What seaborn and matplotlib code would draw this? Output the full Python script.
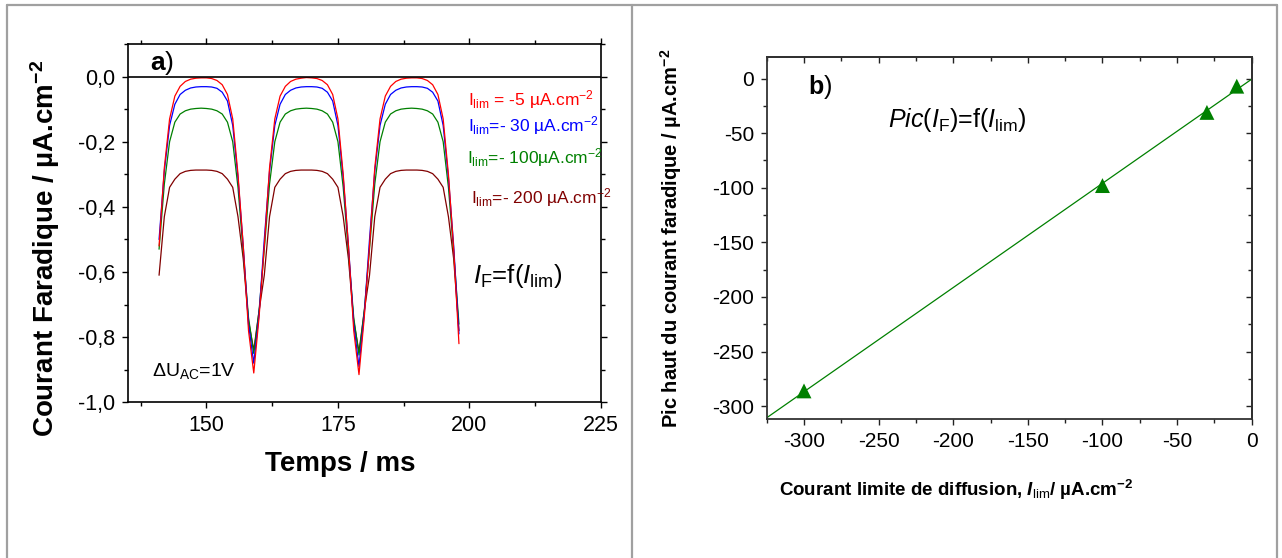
import numpy as np
import pandas as pd
import matplotlib
matplotlib.use('Agg')
import matplotlib.pyplot as plt
import seaborn as sns
from matplotlib.ticker import MultipleLocator, FuncFormatter
from matplotlib.lines import Line2D

# --- data: panel a) faradic current vs time ---
temps = [141, 142, 143, 144, 145, 146, 147, 148, 149, 150,
         151, 152, 153, 154, 155, 156, 157, 158, 159, 160,
         161, 162, 163, 164, 165, 166, 167, 168, 169, 170,
         171, 172, 173, 174, 175, 176, 177, 178, 179, 180,
         181, 182, 183, 184, 185, 186, 187, 188, 189, 190,
         191, 192, 193, 194, 195, 196, 197, 198]

courant_5 = [-0.52, -0.28, -0.13, -0.06, -0.03, -0.015, -0.008, -0.005, -0.004, -0.004,
             -0.006, -0.012, -0.025, -0.055, -0.13, -0.30, -0.52, -0.78, -0.91, -0.74,
             -0.52, -0.28, -0.13, -0.06, -0.03, -0.015, -0.008, -0.005, -0.003, -0.004,
             -0.006, -0.012, -0.025, -0.055, -0.13, -0.30, -0.52, -0.78, -0.915, -0.74,
             -0.52, -0.28, -0.13, -0.06, -0.03, -0.015, -0.008, -0.005, -0.004, -0.004,
             -0.006, -0.012, -0.025, -0.055, -0.13, -0.30, -0.53, -0.82]
courant_30 = [-0.50, -0.29, -0.15, -0.085, -0.055, -0.042, -0.035, -0.032, -0.031, -0.031,
              -0.032, -0.036, -0.048, -0.075, -0.15, -0.31, -0.52, -0.76, -0.88, -0.73,
              -0.50, -0.29, -0.15, -0.085, -0.055, -0.042, -0.035, -0.032, -0.031, -0.031,
              -0.032, -0.036, -0.048, -0.075, -0.15, -0.31, -0.52, -0.76, -0.89, -0.73,
              -0.50, -0.29, -0.15, -0.085, -0.055, -0.042, -0.035, -0.032, -0.031, -0.031,
              -0.032, -0.036, -0.048, -0.075, -0.15, -0.31, -0.52, -0.79]
courant_100 = [-0.53, -0.33, -0.20, -0.14, -0.115, -0.105, -0.10, -0.098, -0.097, -0.098,
               -0.10, -0.105, -0.115, -0.14, -0.20, -0.34, -0.54, -0.74, -0.85, -0.72,
               -0.53, -0.33, -0.20, -0.14, -0.115, -0.105, -0.10, -0.098, -0.097, -0.098,
               -0.10, -0.105, -0.115, -0.14, -0.20, -0.34, -0.54, -0.74, -0.855, -0.72,
               -0.53, -0.33, -0.20, -0.14, -0.115, -0.105, -0.10, -0.098, -0.097, -0.098,
               -0.10, -0.105, -0.115, -0.14, -0.20, -0.34, -0.54, -0.76]
courant_200 = [-0.61, -0.43, -0.34, -0.315, -0.298, -0.291, -0.288, -0.287, -0.287, -0.287,
               -0.288, -0.291, -0.298, -0.315, -0.34, -0.43, -0.56, -0.75, -0.84, -0.72,
               -0.61, -0.43, -0.34, -0.315, -0.298, -0.291, -0.288, -0.287, -0.287, -0.287,
               -0.288, -0.291, -0.298, -0.315, -0.34, -0.43, -0.56, -0.75, -0.845, -0.72,
               -0.61, -0.43, -0.34, -0.315, -0.298, -0.291, -0.288, -0.287, -0.287, -0.287,
               -0.288, -0.291, -0.298, -0.315, -0.34, -0.43, -0.56, -0.78]

series_names = ['-5', '-30', '-100', '-200']
series_colors = ['#ff0000', '#0000ff', '#008000', '#800000']
legend_texts = [r'I$_{\rm lim}$ = -5 µA.cm$^{-2}$',
                r'I$_{\rm lim}$=- 30 µA.cm$^{-2}$',
                r'I$_{\rm lim}$=- 100µA.cm$^{-2}$',
                r'I$_{\rm lim}$=- 200 µA.cm$^{-2}$']

# --- data: panel b) peak vs limiting current ---
i_lim = [-300, -100, -30, -10]
pic_haut = [-286, -98, -31, -7]

a_xticks = [150, 175, 200, 225]
a_yticks = [-1.0, -0.8, -0.6, -0.4, -0.2, 0.0]
b_xticks = [-300, -250, -200, -150, -100, -50, 0]
b_yticks = [-300, -250, -200, -150, -100, -50, 0]

df = pd.DataFrame({
    'temps': temps * 4,
    'courant': courant_5 + courant_30 + courant_100 + courant_200,
    'serie': sum([[n] * len(temps) for n in series_names], []),
})
df_b = pd.DataFrame({'ilim': i_lim, 'pic': pic_haut})

# --- style ---
sns.set_theme(style='ticks')
plt.rcParams['font.family'] = ['Liberation Sans', 'DejaVu Sans']
plt.rcParams['axes.unicode_minus'] = False
for k in ['text.color', 'axes.labelcolor', 'xtick.color', 'ytick.color', 'axes.edgecolor']:
    plt.rcParams[k] = 'black'
plt.rcParams['mathtext.fontset'] = 'custom'
plt.rcParams['mathtext.rm'] = 'Liberation Sans'
plt.rcParams['mathtext.it'] = 'Liberation Sans:italic'
plt.rcParams['mathtext.bf'] = 'Liberation Sans:bold'
try:
    plt.rcParams['mathtext.bfit'] = 'Liberation Sans:bold:italic'
    bfit = r'\mathbfit{I}'
except KeyError:
    bfit = r'\mathit{I}'

fig = plt.figure(figsize=(12.82, 5.58), dpi=100)
W, H = 1282, 558

def px_axes(x0, y0, x1, y1):
    return fig.add_axes([x0 / W, 1 - y1 / H, (x1 - x0) / W, (y1 - y0) / H])

comma = FuncFormatter(lambda v, p: f'{v:.1f}'.replace('.', ','))

# ===== panel a =====
ax1 = px_axes(127.5, 44, 601, 402.3)
# draw dark red first, red last (on top)
sns.lineplot(data=df, x='temps', y='courant', hue='serie',
             hue_order=series_names[::-1], palette=series_colors[::-1],
             legend=False, lw=0.9, ax=ax1, estimator=None, sort=False)
ax1.axhline(0, color='black', lw=1.2)
ax1.set_xlim(135, 225)
ax1.set_ylim(-1.0, 0.1)
ax1.set_xticks(a_xticks)
ax1.set_yticks(a_yticks)
ax1.xaxis.set_minor_locator(MultipleLocator(12.5))
ax1.yaxis.set_minor_locator(MultipleLocator(0.1))
ax1.yaxis.set_major_formatter(comma)
ax1.tick_params(which='both', direction='out', labelsize=15.5, pad=4.5,
                top=True, right=True, width=1)
ax1.tick_params(which='major', length=4.5)
ax1.tick_params(which='minor', length=3)
for s in ax1.spines.values():
    s.set_linewidth(1.2)
ax1.set_xlabel('Temps / ms', fontsize=20, fontweight='bold')
ax1.set_ylabel(r'Courant Faradique / µA.cm$^{\mathbf{-2}}$', fontsize=20, fontweight='bold')
ax1.xaxis.set_label_coords(0.449, -0.136)
ax1.yaxis.set_label_coords(-0.138, 0.43)

ax1.text(139.3, 0.021, r'$\mathbf{a}$)', fontsize=19, ha='left', va='baseline')
for txt, col, x, y in zip(legend_texts, series_colors, [199.8, 199.8, 199.6, 200.2],
                          [-0.087, -0.169, -0.266, -0.389]):
    ax1.text(x, y, txt, color=col, fontsize=12.5, ha='left', va='baseline')
ax1.text(200.7, -0.635, r'$I_{\rm F}$=f($I_{\rm lim}$)', fontsize=18.5, ha='left', va='baseline')
ax1.text(139.65, -0.919, r'$\Delta$U$_{\rm AC}$=1V', fontsize=14, ha='left', va='baseline')

# ===== panel b =====
ax2 = px_axes(766.7, 56.7, 1251.7, 419.3)
ax2.set_xlim(-325, 0)
ax2.set_ylim(-312, 20)
sns.regplot(data=df_b, x='ilim', y='pic', ax=ax2, ci=None, truncate=False,
            marker='^', color='#008000',
            scatter_kws={'s': 115, 'edgecolors': 'none', 'alpha': 1},
            line_kws={'lw': 0.9})
ax2.set_xlim(-325, 0)
ax2.set_ylim(-312, 20)
ax2.set_xlabel('')
ax2.set_xticks(b_xticks)
ax2.set_yticks(b_yticks)
ax2.xaxis.set_minor_locator(MultipleLocator(25))
ax2.yaxis.set_minor_locator(MultipleLocator(25))
ax2.tick_params(which='both', direction='out', colors='#222222', labelcolor='black',
                labelsize=15, pad=4.5, width=1)
ax2.tick_params(which='major', length=4.5)
ax2.tick_params(which='minor', length=3)
for s in ax2.spines.values():
    s.set_color('#333333')
    s.set_linewidth(1.3)
# inward ticks on top and right
sx = ax2.secondary_xaxis('top')
sx.set_xticks(b_xticks)
sx.xaxis.set_minor_locator(MultipleLocator(25))
sx.tick_params(which='both', direction='in', labeltop=False, colors='#222222', width=1)
sx.tick_params(which='major', length=4.5)
sx.tick_params(which='minor', length=3)
sy = ax2.secondary_yaxis('right')
sy.set_yticks(b_yticks)
sy.yaxis.set_minor_locator(MultipleLocator(25))
sy.tick_params(which='both', direction='in', labelright=False, colors='#222222', width=1)
sy.tick_params(which='major', length=4.5)
sy.tick_params(which='minor', length=3)

ax2.set_xlabel(r'Courant limite de diffusion, $' + bfit + r'_{\rm lim}$/ µA.cm$^{\mathbf{-2}}$',
               fontsize=13.5, fontweight='bold')
ax2.set_ylabel(r'Pic haut du courant faradique / µA.cm$^{\mathbf{-2}}$',
               fontsize=14.5, fontweight='bold')
ax2.xaxis.set_label_coords(0.39, -0.162)
ax2.yaxis.set_label_coords(-0.17, 0.5)
ax2.text(-297.3, -14.4, r'$\mathbf{b}$)', fontsize=18, ha='left', va='baseline')
ax2.text(-243.7, -44, r'$\mathit{Pic}$($I_{\rm F}$)=f($I_{\rm lim}$)', fontsize=18,
         ha='left', va='baseline')

# --- gray frame around both panels ---
gray = '#a0a0a0'
fig.add_artist(Line2D([7.3 / W, 1277 / W], [1 - 4.5 / H, 1 - 4.5 / H], color=gray, lw=1.6))
fig.add_artist(Line2D([7.3 / W, 7.3 / W], [0, 1 - 4.5 / H], color=gray, lw=1.6))
fig.add_artist(Line2D([1277 / W, 1277 / W], [0, 1 - 4.5 / H], color=gray, lw=1.6))
fig.add_artist(Line2D([632 / W, 632 / W], [0, 1 - 4.5 / H], color=gray, lw=1.6))

fig.savefig('out.png', dpi=100)
